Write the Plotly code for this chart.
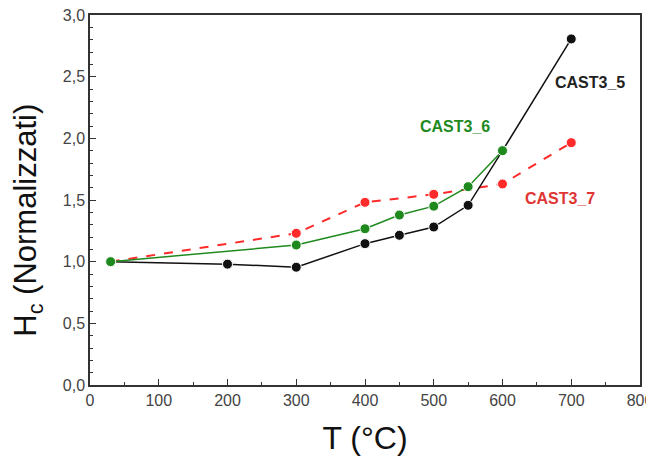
import plotly.graph_objects as go

t5 = [30, 200, 300, 400, 450, 500, 550, 600, 700]
h5 = [1.0, 0.98, 0.955, 1.146, 1.214, 1.281, 1.457, 1.90, 2.806]
t6 = [30, 300, 400, 450, 500, 550, 600]
h6 = [1.0, 1.135, 1.267, 1.378, 1.45, 1.608, 1.90]
t7 = [30, 300, 400, 500, 600, 700]
h7 = [1.0, 1.23, 1.481, 1.546, 1.63, 1.965]
labels = ["CAST3_5", "CAST3_6", "CAST3_7"]

black = "#111111"
green = "#1e8a1e"
red = "#ff2a2a"

fig = go.Figure()
fig.add_trace(go.Scatter(x=t7, y=h7, mode="lines+markers",
                         line=dict(color=red, width=2, dash="dash"),
                         marker=dict(color=red, size=10, line=dict(color="white", width=1))))
fig.add_trace(go.Scatter(x=t5, y=h5, mode="lines+markers",
                         line=dict(color=black, width=1.5),
                         marker=dict(color=black, size=10, line=dict(color="white", width=1))))
fig.add_trace(go.Scatter(x=t6, y=h6, mode="lines+markers",
                         line=dict(color=green, width=1.5),
                         marker=dict(color=green, size=10, line=dict(color="white", width=1))))

fig.add_annotation(x=727, y=2.45, text="<b>" + labels[0] + "</b>", showarrow=False,
                   font=dict(family="Arial", size=16, color="#222222"))
fig.add_annotation(x=531, y=2.094, text="<b>" + labels[1] + "</b>", showarrow=False,
                   font=dict(family="Arial", size=16, color=green))
fig.add_annotation(x=684, y=1.514, text="<b>" + labels[2] + "</b>", showarrow=False,
                   font=dict(family="Arial", size=16, color="#e03535"))

# y-axis title (placed as annotation so it can sit slightly below centre, as in the reference)
fig.add_annotation(xref="paper", yref="paper", x=-0.112, y=0.445,
                   text="H<sub>c</sub> (Normalizzati)", textangle=-90, showarrow=False,
                   xanchor="center", yanchor="middle",
                   font=dict(family="Arial", size=31, color="#111111"))

axis_common = dict(showgrid=False, zeroline=False, showline=True, linecolor="#333333",
                   linewidth=1.5, mirror=True, ticks="inside", ticklen=6,
                   tickcolor="#333333", tickwidth=1.2, automargin=False,
                   ticklabeloverflow="allow",
                   tickfont=dict(family="Arial", size=16, color="#444444"))

fig.update_xaxes(range=[0, 800], dtick=100, tick0=0,
                 minor=dict(ticks="inside", ticklen=3, dtick=50, tickcolor="#333333"),
                 title=dict(text="T (°C)", font=dict(family="Arial", size=32, color="#111111"),
                            standoff=19),
                 **axis_common)
fig.update_yaxes(range=[0, 3.0], dtick=0.5, tick0=0, tickformat=".1f",
                 minor=dict(ticks="inside", ticklen=3, dtick=0.1, tickcolor="#333333"),
                 **axis_common)

fig.update_layout(width=646, height=452, showlegend=False, separators=",.",
                  plot_bgcolor="white", paper_bgcolor="white",
                  margin=dict(l=82, r=14, t=7, b=75))

fig.write_html("out.html")
